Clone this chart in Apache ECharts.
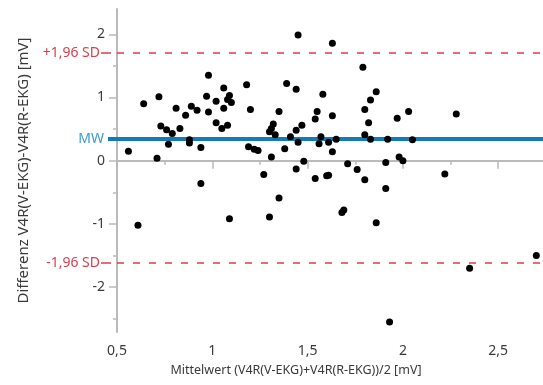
<!DOCTYPE html>
<html>
<head>
<meta charset="utf-8">
<script src="https://cdn.jsdelivr.net/npm/echarts@6/dist/echarts.min.js"></script>
<style>
  html, body { margin: 0; padding: 0; background: #ffffff; }
  #chart { width: 543px; height: 385px; }
</style>
</head>
<body>
<div id="chart"></div>
<script>
// Bland-Altman: mean of both leads (x) vs. their difference (y), in mV
const meanValues = [
  0.56, 0.64, 0.71, 0.72, 0.73, 0.76, 0.77, 0.79, 0.81, 0.83,
  0.86, 0.88, 0.88, 0.89, 0.92, 0.94, 0.97, 0.98, 0.98, 1.02,
  1.02, 1.05, 1.06, 1.06, 1.08, 1.09, 1.08, 1.10, 1.18, 1.20,
  1.19, 1.22, 1.24, 1.27, 1.31, 1.32, 1.31, 1.30, 1.33, 1.35,
  1.38, 1.39, 1.41, 1.44, 1.44, 1.45, 1.44, 1.47, 1.48, 1.45,
  1.54, 1.55, 1.56, 1.57, 1.58, 1.61, 1.63, 1.63, 1.63, 1.65,
  1.71, 1.76, 1.79, 1.80, 1.82, 1.83, 1.86, 1.80, 1.83, 1.91,
  1.92, 1.97, 1.98, 2.00, 2.03, 2.05, 2.22, 2.28, 0.61, 0.94,
  1.09, 1.30, 1.35, 1.54, 1.60, 1.61, 1.80, 1.91, 1.68, 1.69,
  1.86, 1.93, 2.35, 2.70
];
const diffValues = [
  0.15, 0.90, 0.04, 1.01, 0.55, 0.49, 0.26, 0.43, 0.83, 0.51,
  0.72, 0.33, 0.28, 0.86, 0.80, 0.21, 1.02, 1.35, 0.77, 0.94,
  0.60, 0.51, 1.15, 0.83, 0.56, 1.03, 0.97, 0.92, 1.20, 0.81,
  0.22, 0.18, 0.16, -0.22, 0.06, 0.58, 0.51, 0.46, 0.41, 0.78,
  0.19, 1.22, 0.38, 1.13, 0.48, 0.29, -0.13, 0.56, -0.01, 1.99,
  0.66, 0.78, 0.27, 0.38, 1.05, 0.29, 1.86, 0.71, 0.14, 0.34,
  -0.05, -0.14, 1.48, 0.81, 0.60, 0.96, 1.09, 0.41, 0.34, -0.03,
  0.34, 0.67, 0.06, 0.00, 0.78, 0.33, -0.21, 0.74, -1.02, -0.36,
  -0.92, -0.89, -0.59, -0.28, -0.24, -0.23, -0.30, -0.44, -0.82, -0.78,
  -0.98, -2.55, -1.70, -1.50
];

// Axis ticks
const xTickValues = [0.5, 1, 1.5, 2, 2.5];
const xMinorValues = [0.75, 1.25, 1.75, 2.25];
const yTickValues = [-2, -1, 0, 1, 2];
const yMinorValues = [-2.5, -1.5, -0.5, 0.5, 1.5];

// Reference lines: limits of agreement and mean difference
const limitValues = [1.70, -1.62];
const limitLabels = ['+1,96 SD', '-1,96 SD'];
const meanDiff = [0.34];
const meanLabel = 'MW';

const X_MIN = 0.5, X_MAX = 2.735;
const Y_MIN = -2.71, Y_MAX = 2.4;

const FONT = '"Segoe UI", "Noto Sans", sans-serif';
const AXIS_GRAY = '#bababa';
const TEXT_GRAY = '#3a3a3a';
const RED = '#d8404c';
const BLUE = '#127bb8';
const LIGHT_BLUE = '#3d9ad2';

const comma = v => String(v).replace('.', ',');
const points = meanValues.map((m, i) => [m, diffValues[i]]);

const hidden = { show: false };

const option = {
  animation: false,
  backgroundColor: '#ffffff',
  grid: { left: 117, right: 0, top: 9, bottom: 53, containLabel: false },
  xAxis: [
    {
      type: 'value', min: X_MIN, max: X_MAX, position: 'bottom',
      name: 'Mittelwert (V4R(V-EKG)+V4R(R-EKG))/2 [mV]',
      nameLocation: 'middle', nameGap: 32,
      nameTextStyle: { fontFamily: FONT, fontSize: 12.5, color: TEXT_GRAY, padding: [0, 68, 0, 0] },
      axisLine: { show: true, lineStyle: { color: AXIS_GRAY, width: 2 } },
      axisTick: { show: true, customValues: xTickValues, length: 8, lineStyle: { color: AXIS_GRAY, width: 1.5 } },
      axisLabel: { show: true, customValues: xTickValues, formatter: comma, margin: 12,
                   fontFamily: FONT, fontSize: 14, color: TEXT_GRAY },
      splitLine: hidden
    },
    {
      type: 'value', min: X_MIN, max: X_MAX, position: 'bottom',
      axisLine: hidden,
      axisTick: { show: true, customValues: xMinorValues, length: 4, lineStyle: { color: AXIS_GRAY, width: 1.5 } },
      axisLabel: hidden, splitLine: hidden
    },
    {
      type: 'value', min: X_MIN, max: X_MAX, position: 'top',
      axisLine: { show: true, lineStyle: { color: AXIS_GRAY, width: 2 } },
      axisTick: hidden, axisLabel: hidden, splitLine: hidden
    }
  ],
  yAxis: [
    {
      type: 'value', min: Y_MIN, max: Y_MAX, position: 'left',
      name: 'Differenz V4R(V-EKG)-V4R(R-EKG) [mV]',
      nameLocation: 'middle', nameGap: 86,
      nameTextStyle: { fontFamily: FONT, fontSize: 15, color: TEXT_GRAY },
      axisLine: { show: true, lineStyle: { color: AXIS_GRAY, width: 2 } },
      axisTick: { show: true, customValues: yTickValues, length: 8, lineStyle: { color: AXIS_GRAY, width: 1.5 } },
      axisLabel: { show: true, customValues: yTickValues, formatter: comma, margin: 12,
                   fontFamily: FONT, fontSize: 14, color: TEXT_GRAY },
      splitLine: hidden
    },
    {
      type: 'value', min: Y_MIN, max: Y_MAX, position: 'left',
      axisLine: hidden,
      axisTick: { show: true, customValues: yMinorValues, length: 4, lineStyle: { color: AXIS_GRAY, width: 1.5 } },
      axisLabel: hidden, splitLine: hidden
    },
    {
      type: 'value', min: Y_MIN, max: Y_MAX, position: 'left',
      axisLine: hidden,
      axisTick: { show: true, customValues: limitValues, length: 16,
                  lineStyle: { color: RED, width: 1.5, type: [0, 6, 10] } },
      axisLabel: { show: true, customValues: limitValues, margin: 17,
                   formatter: v => limitLabels[limitValues.indexOf(v)],
                   fontFamily: FONT, fontSize: 14, color: RED },
      splitLine: hidden
    },
    {
      type: 'value', min: Y_MIN, max: Y_MAX, position: 'left',
      axisLine: hidden,
      axisTick: { show: true, customValues: meanDiff, length: 9, lineStyle: { color: BLUE, width: 4 } },
      axisLabel: { show: true, customValues: meanDiff, margin: 13, formatter: () => meanLabel,
                   fontFamily: FONT, fontSize: 14, color: LIGHT_BLUE },
      splitLine: hidden
    }
  ],
  series: [
    {
      type: 'scatter',
      xAxisIndex: 0, yAxisIndex: 0,
      data: points,
      symbol: 'circle',
      symbolSize: 7,
      itemStyle: { color: '#000000', opacity: 1 },
      silent: true,
      z: 5,
      markLine: {
        silent: true,
        symbol: 'none',
        label: { show: false },
        data: [
          ...limitValues.map(v => ({ yAxis: v, lineStyle: { color: RED, width: 1.5, type: [7, 9] } })),
          ...meanDiff.map(v => ({ yAxis: v, lineStyle: { color: BLUE, width: 4, type: 'solid' } }))
        ],
        z: 3
      }
    }
  ]
};

const chart = echarts.init(document.getElementById('chart'), null, { renderer: 'canvas' });
chart.setOption(option);
</script>
</body>
</html>
